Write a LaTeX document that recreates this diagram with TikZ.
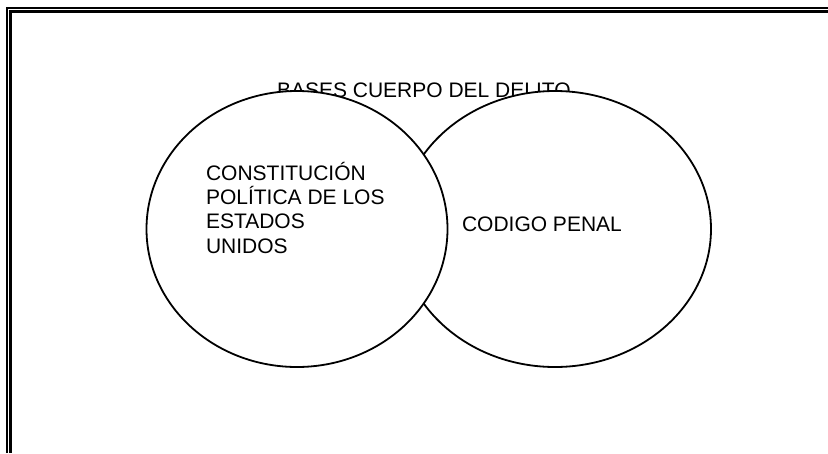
\documentclass[tikz,border=0pt]{standalone}
\usepackage{fontspec}
\setmainfont{Liberation Sans}
\usetikzlibrary{shapes.geometric}
\begin{document}
\begin{tikzpicture}[x=1pt,y=-1pt,
  lbl/.style={inner sep=0pt,outer sep=0pt,anchor=base west,font=\fontsize{21}{24.2}\selectfont,align=left},
  oval/.style={ellipse,draw=black,fill=white,line width=1.8pt,inner sep=0pt}]
\useasboundingbox[fill=white] (0,0) rectangle (828,453);
% frame
\draw[line width=2.2pt] (7,453) -- (7,8) -- (828,8);
\draw[line width=2.2pt] (10.5,453) -- (10.5,11.5) -- (828,11.5);
% title
\node[lbl] (title) at (277,97) {BASES CUERPO DEL DELITO};
% circles
\node[oval,minimum width=312pt,minimum height=276pt] (codigo) at (555,229) {};
\node[oval,minimum width=301pt,minimum height=276pt] (const) at (297,229) {};
% labels
\node[lbl] (consttext) at (206,253) {CONSTITUCIÓN\\POLÍTICA DE LOS\\ESTADOS\\UNIDOS};
\node[lbl] (codigotext) at (462,231) {CODIGO PENAL};
\end{tikzpicture}
\end{document}
